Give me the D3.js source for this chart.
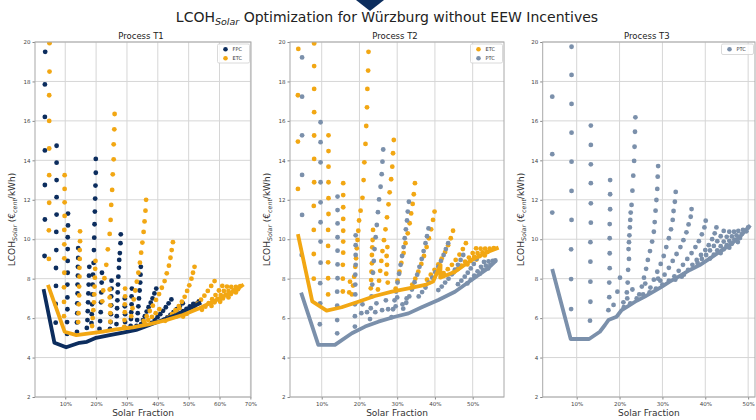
<!DOCTYPE html>
<html>
<head>
<meta charset="utf-8">
<script src="https://cdn.jsdelivr.net/npm/d3@7"></script>
<style>
  body { margin: 0; background: #fff; }
  svg { display: block; }
  text { font-family: "DejaVu Sans", "Liberation Sans", sans-serif; }
</style>
</head>
<body>
<svg id="chart" width="756" height="420"></svg>
<script>
// ---- axis ticks ----
const yTicks = [2, 4, 6, 8, 10, 12, 14, 16, 18, 20];
const xTicksT1 = [10, 20, 30, 40, 50, 60, 70];
const xTicksT23 = [10, 20, 30, 40, 50];

// ---- Process T1: [solar fraction %, LCOH ct/kWh] ----
const t1FPC = [
  [3.5,19.5],[3.4,17.85],[3.4,16.2],[3.4,14.5],[3.4,12.75],[3.4,11.0],[3.3,9.15],
  [7.2,14.74],[7.2,13.88],[7.2,13.0],[7.2,12.13],[7.2,11.25],[7.1,10.37],[7.1,9.45],[7.0,8.54],[7.0,7.63],[6.9,6.72],[6.9,5.77],
  [10.9,11.3],[10.9,10.7],[10.8,10.1],[10.8,9.5],[10.8,8.9],[10.8,8.3],[10.7,7.7],[10.7,7.05],[10.7,6.45],[10.6,5.8],[10.6,5.2],
  [14.2,9.55],[14.2,9.05],[14.1,8.6],[14.1,8.15],[14.0,7.7],[14.0,7.25],[13.9,6.75],[13.9,6.25],[13.8,5.78],[13.8,5.3],
  [17.8,8.6],[17.7,8.15],[17.6,7.7],[17.5,7.25],[17.4,6.8],[17.3,6.35],[17.2,5.9],[17.0,5.5],
  [19.9,14.07],[19.9,13.37],[19.8,12.72],[19.7,12.06],[19.6,11.4],[19.5,10.76],[19.4,10.08],[19.3,9.45],[19.2,8.8],[19.0,8.2],[18.9,7.7],[18.8,7.2],[18.7,6.7],[18.6,6.2],[18.5,5.75],
  [21.9,8.3],[21.8,7.8],[21.7,7.3],[21.6,6.8],[21.5,6.3],[21.3,5.85],[21.1,5.45],
  [25.0,7.9],[25.0,7.5],[24.9,7.1],[24.9,6.65],[24.8,6.2],[24.7,5.8],[24.5,5.45],
  [28.0,10.25],[27.9,9.8],[27.7,9.3],[27.5,8.95],[27.4,8.55],[27.2,8.1],[27.1,7.7],[27.0,7.3],[26.9,6.9],[26.8,6.5],[26.7,6.1],[26.6,5.7],
  [29.3,7.0],[29.3,6.6],[29.4,6.2],[29.4,5.8],[29.3,5.5],
  [31.6,7.5],[31.5,7.1],[31.5,6.7],[31.4,6.3],[31.3,5.95],[31.2,5.6],
  [34.5,8.6],[34.4,8.2],[34.3,7.8],[34.1,7.4],[33.9,7.0],[33.7,6.6],[33.5,6.25],[33.3,5.9],[33.1,5.6],
  [39.5,7.5],[38.9,7.25],[38.3,7.0],[37.7,6.78],[37.0,6.55],[36.4,6.33],[35.8,6.1],[35.2,5.9],[34.6,5.7],
  [44.4,6.95],[43.5,6.75],[42.6,6.55],[41.7,6.37],[40.8,6.2],[39.9,6.05],[39.0,5.9],[38.1,5.76],
  [48.1,6.75],[47.1,6.6],[46.1,6.45],[45.1,6.3],[44.1,6.16],[43.1,6.03],[42.1,5.92],
  [51.5,6.72],[50.4,6.6],[49.3,6.47],[48.2,6.35],[47.1,6.22],[46.0,6.1],
  [53.3,6.85],[52.4,6.72]
];
const t1ETC = [
  [4.9,19.94],[4.9,18.5],[4.8,17.3],[4.8,16.0],[4.8,14.6],[4.8,13.25],[4.8,11.85],[4.7,10.45],[4.7,9.0],
  [9.8,13.25],[9.8,12.55],[9.8,11.87],[9.8,11.18],[9.7,10.47],[9.7,9.74],[9.7,9.03],[9.7,8.3],[9.6,7.56],[9.6,6.82],[9.6,6.1],
  [14.8,10.4],[14.8,9.9],[14.7,9.45],[14.7,9.0],[14.6,8.55],[14.6,8.1],[14.5,7.6],[14.5,7.15],[14.4,6.7],[14.3,6.25],[14.2,5.8],
  [19.8,8.9],[19.7,8.5],[19.6,8.05],[19.5,7.6],[19.4,7.2],[19.3,6.8],[19.1,6.4],[18.9,6.0],[18.7,5.6],
  [26.0,16.35],[25.9,15.57],[25.7,14.81],[25.7,14.05],[25.4,13.29],[25.2,12.5],[24.9,11.74],[24.7,10.98],[24.4,10.27],[23.8,9.49],[23.3,8.7],[22.7,8.02],[22.3,7.4],[22.0,6.85],
  [24.4,7.45],[24.4,7.05],[24.6,6.65],[24.6,6.25],[24.6,5.82],
  [29.4,7.5],[29.4,7.1],[29.3,6.7],[29.3,6.3],[29.2,5.9],[29.1,5.55],
  [36.2,12.0],[36.0,11.45],[35.7,10.9],[35.4,10.37],[35.0,9.83],[34.6,9.32],[34.2,8.81],[33.7,8.3],[33.2,7.85],[32.7,7.4],[32.2,6.95],[31.8,6.5],[31.4,6.1],
  [44.9,9.85],[44.5,9.45],[44.1,9.06],[43.6,8.66],[42.9,8.27],[42.2,7.88],[41.3,7.54],[40.4,7.22],[39.4,6.92],[38.4,6.63],[37.4,6.36],[36.4,6.1],[35.4,5.86],
  [51.9,8.6],[51.4,8.3],[50.9,8.0],[50.2,7.66],[49.5,7.38],[48.7,7.08],[47.8,6.83],[46.8,6.61],[45.7,6.4],[44.6,6.2],[43.5,6.02],[42.4,5.86],
  [58.4,7.88],[57.3,7.63],[56.2,7.38],[55.1,7.14],[54.0,6.93],[52.9,6.73],[51.8,6.55],[50.6,6.38],[49.4,6.22],[48.2,6.08],
  [60.9,7.63],[59.8,7.4],[58.7,7.17],[57.6,6.96],[56.5,6.76],[55.4,6.58],[54.3,6.42],
  [62.4,7.6],[61.4,7.38],[60.4,7.17],[59.4,6.98],[58.4,6.8],[57.4,6.62],
  [63.8,7.58],[62.9,7.38],[62.0,7.19],[61.1,7.0],[60.2,6.83],
  [65.3,7.58],[64.5,7.4],[63.7,7.22],[62.9,7.05],
  [66.7,7.62],[66.0,7.46],[65.3,7.3],
  [40.5,6.45],[39.3,6.25],[38.1,6.06],[36.9,5.9],[35.7,5.76],
  [47.0,6.5],[45.9,6.35],[44.8,6.2]
];
const t1FPCmin = [[3.1,7.37],[6.5,4.75],[10.3,4.52],[14.6,4.75],[17.0,4.8],[20.0,5.0],[24.4,5.14],[28.7,5.26],[33.0,5.4],[37.3,5.65],[41.6,5.9],[46.0,6.16],[50.3,6.5],[53.5,6.75]];
const t1ETCmin = [[4.6,7.6],[9.8,5.31],[13.6,5.14],[17.9,5.23],[22.2,5.31],[26.5,5.43],[31.9,5.53],[37.3,5.7],[42.7,5.9],[48.1,6.16],[53.5,6.5],[59.0,6.92],[64.4,7.34],[67.3,7.65]];

// ---- Process T2 ----
const t2ETC = [
  [3.8,19.65],[3.7,17.3],[3.7,14.95],[3.7,12.55],
  [8.0,19.93],[8.0,18.78],[8.0,17.62],[8.0,16.44],[8.0,15.26],[8.0,14.07],[8.0,12.89],[7.9,11.69],[7.9,10.47],[7.9,9.25],[7.9,8.0],
  [11.8,15.27],[11.8,14.47],[11.8,13.68],[11.8,12.89],[11.8,12.08],[11.8,11.28],[11.7,10.47],[11.7,9.66],[11.7,8.83],[11.7,8.02],[11.7,7.2],
  [15.7,12.84],[15.7,12.24],[15.7,11.62],[15.7,11.03],[15.7,10.43],[15.7,9.88],[15.7,9.32],[15.6,8.7],[15.6,8.0],[15.6,7.35],
  [17.5,7.85],[17.3,7.3],
  [22.4,19.5],[22.3,18.55],[22.1,17.62],[22.0,16.69],[21.8,15.74],[21.6,14.83],[21.3,13.9],[21.1,13.0],[20.8,12.1],[20.3,11.45],[19.9,10.95],[19.7,10.43],[19.5,9.96],[19.3,9.54],[19.1,9.03],[18.9,8.6],[18.6,8.1],[18.3,7.65],[18.0,7.2],
  [23.6,10.47],[23.5,9.96],[23.4,9.59],[23.3,9.2],[23.3,8.78],[23.2,8.35],[23.1,7.93],[23.0,7.51],
  [29.1,15.03],[28.9,14.36],[28.7,13.68],[28.4,13.04],[28.0,12.38],[27.7,11.77],[27.3,11.11],[26.9,10.5],[26.5,9.95],[26.1,9.4],[25.8,8.9],[25.5,8.4],[25.2,7.9],[24.9,7.45],
  [27.4,9.6],[27.2,9.15],[27.3,8.7],[27.1,8.25],[27.5,7.8],
  [34.7,12.84],[34.4,12.28],[34.1,11.79],[33.7,11.31],[33.3,10.81],[32.8,10.3],[32.2,9.8],[31.7,9.3],[31.1,8.8],[30.6,8.35],[30.1,7.9],[29.6,7.5],
  [39.9,11.4],[39.5,10.98],[39.0,10.5],[38.4,10.05],[37.8,9.6],[37.1,9.15],[36.4,8.75],[35.6,8.35],[34.8,8.0],[34.0,7.7],
  [44.8,10.43],[44.2,10.05],[43.5,9.7],[42.7,9.35],[41.8,9.02],[40.9,8.72],[39.9,8.45],[38.9,8.2],[37.9,7.95],
  [48.2,9.8],[47.4,9.5],[46.5,9.22],[45.5,8.95],[44.5,8.7],[43.4,8.48],[42.3,8.28],
  [50.9,9.54],[50.0,9.3],[49.0,9.07],[48.0,8.86],[47.0,8.66],[46.0,8.48],[45.0,8.32],
  [52.1,9.52],[51.3,9.3],[50.4,9.1],[49.5,8.9],[48.6,8.72],
  [53.3,9.52],[52.6,9.33],[51.8,9.14],[51.0,8.97],
  [54.5,9.52],[53.9,9.35],[53.2,9.18],
  [55.6,9.55]
];
const t2PTC = [
  [4.8,19.22],[4.8,17.23],[4.8,15.27],[4.8,13.26],[4.8,11.23],[4.7,9.2],
  [9.7,15.93],[9.7,14.92],[9.7,13.9],[9.7,12.89],[9.7,11.87],[9.7,10.86],[9.7,9.88],[9.7,8.81],[9.6,7.77],[9.6,6.75],[9.5,5.69],
  [14.2,12.16],[14.2,11.48],[14.2,10.8],[14.2,10.1],[14.2,9.42],[14.2,8.72],[14.2,8.02],[14.1,7.34],[14.1,6.63],[14.1,5.9],[14.1,5.23],
  [19.0,10.2],[19.0,9.7],[19.0,9.2],[19.0,8.7],[18.9,8.2],[18.9,7.7],[18.9,7.2],[18.8,6.7],[18.8,6.1],[18.8,5.57],
  [26.3,14.55],[26.1,13.93],[25.9,13.3],[25.6,12.66],[25.2,12.02],[24.9,11.37],[24.6,10.72],[24.3,10.1],[24.0,9.5],[23.8,8.9],[23.6,8.3],[23.4,7.7],[23.2,7.1],[23.0,6.5],[22.8,5.95],
  [33.1,11.9],[32.8,11.4],[32.6,10.95],[32.3,10.5],[32.0,10.05],[31.7,9.6],[31.3,9.15],[30.9,8.7],[30.5,8.25],[30.1,7.8],[29.7,7.35],[29.3,6.9],[28.9,6.45],[28.5,6.05],
  [38.3,10.55],[37.9,10.15],[37.5,9.8],[37.0,9.4],[36.5,9.0],[35.9,8.6],[35.3,8.2],[34.6,7.82],[33.9,7.45],[33.2,7.1],[32.4,6.78],[31.6,6.48],
  [43.5,9.8],[42.9,9.5],[42.3,9.2],[41.6,8.9],[40.9,8.6],[40.1,8.32],[39.3,8.05],[38.4,7.8],[37.5,7.55],[36.6,7.32],[35.7,7.1],
  [47.5,9.2],[46.8,8.95],[46.1,8.7],[45.3,8.46],[44.5,8.22],[43.6,8.0],[42.7,7.8],[41.8,7.6],[40.9,7.42],
  [51.0,9.0],[50.3,8.75],[49.5,8.52],[48.7,8.3],[47.9,8.1],[47.0,7.9],[46.1,7.72],
  [53.0,8.85],[52.2,8.6],[51.3,8.37],[50.4,8.15],[49.5,7.95],[48.6,7.76],
  [54.2,8.88],[53.5,8.66],[52.7,8.45],[51.9,8.25],
  [55.3,8.9],[54.7,8.7],[54.1,8.52],
  [56.0,8.92],
  [20.5,6.25],[22.0,6.3],[24.2,6.3],[26.0,6.4],[27.6,6.45],[29.6,6.6],[31.4,6.7],[20.8,6.7],[24.5,6.75],[27.0,6.9],[30.0,7.05],[32.5,7.0]
];
const t2ETCmin = [[3.8,10.16],[7.5,6.85],[11.3,6.38],[15.3,6.55],[19.7,6.83],[24.1,7.12],[28.6,7.34],[33.0,7.51],[37.4,7.68],[39.5,7.85],[41.5,8.7],[41.4,8.05],[45.3,8.35],[49.7,8.95],[54.1,9.37],[56.4,9.54]];
const t2PTCmin = [[4.7,7.2],[9.1,4.64],[13.5,4.64],[18.0,5.23],[21.5,5.57],[25.0,5.82],[29.4,6.07],[33.0,6.24],[36.5,6.55],[40.9,6.92],[45.3,7.34],[49.7,7.93],[54.1,8.53],[55.9,8.86]];

// ---- Process T3 ----
const t3PTC = [
  [4.3,17.23],[4.3,14.31],[4.3,11.35],
  [8.8,19.76],[8.8,18.33],[8.8,16.86],[8.8,15.4],[8.8,13.93],[8.8,12.45],[8.8,10.98],[8.7,9.49],[8.7,7.98],[8.7,6.46],
  [13.3,15.76],[13.3,14.78],[13.3,13.8],[13.3,12.84],[13.3,11.82],[13.3,10.84],[13.2,9.85],[13.2,8.86],[13.2,7.85],[13.2,6.83],[13.1,5.87],
  [17.8,13.0],[17.8,12.28],[17.8,11.52],[17.7,10.77],[17.7,10.05],[17.7,9.29],[17.7,8.53],[17.6,7.8],[17.6,7.06],[17.4,6.4],
  [20.1,8.05],[19.5,7.34],[18.6,6.67],
  [23.7,16.18],[23.6,15.45],[23.5,14.69],[23.4,13.97],[23.2,13.22],[23.0,12.46],[22.8,11.74],[22.6,11.35],[22.5,10.98],[22.4,10.6],[22.3,10.2],[22.2,9.85],[22.1,9.5],[22.2,9.0],[22.0,8.45],[21.9,7.8],[21.7,7.3],[20.9,6.8],
  [29.0,13.71],[28.9,13.17],[28.8,12.55],[28.6,11.99],[28.4,11.45],[28.2,10.87],[28.0,10.38],[27.6,9.88],[27.1,9.4],[26.6,8.95],[26.2,8.5],[25.7,8.05],[25.2,7.6],[24.6,7.2],
  [33.1,12.4],[32.9,11.9],[32.6,11.43],[32.4,10.98],[32.0,10.5],[31.5,10.05],[30.9,9.6],[30.3,9.15],[29.6,8.75],[28.8,8.35],[28.0,7.95],[27.2,7.55],
  [36.8,11.53],[36.6,11.14],[36.1,10.75],[35.6,10.35],[34.9,9.95],[34.2,9.6],[33.3,9.25],[32.4,8.9],[31.5,8.55],[30.5,8.2],[29.5,7.9],
  [40.1,10.94],[39.8,10.6],[39.2,10.25],[38.5,9.9],[37.7,9.6],[36.8,9.3],[35.8,9.0],[34.8,8.7],[33.8,8.4],[32.8,8.12],
  [42.6,10.6],[42.2,10.3],[41.6,10.0],[40.8,9.7],[40.0,9.45],[39.0,9.2],[38.0,8.95],[37.0,8.7],[36.0,8.45],[35.0,8.2],
  [44.3,10.42],[43.6,10.15],[42.8,9.9],[42.0,9.66],[41.1,9.43],[40.2,9.2],[39.2,9.0],[38.2,8.8],
  [45.6,10.38],[45.0,10.12],[44.3,9.88],[43.6,9.65],[42.8,9.43],[42.0,9.22],[41.1,9.02],
  [46.7,10.38],[46.2,10.14],[45.6,9.92],[45.0,9.7],[44.3,9.49],[43.6,9.3],
  [47.7,10.42],[47.3,10.2],[46.8,9.98],[46.2,9.77],[45.6,9.57],
  [48.8,10.47],[48.5,10.26],[48.1,10.06],[47.6,9.86],
  [50.0,10.6],[49.6,10.4],
  [21.0,6.55],[22.5,6.75],[24.0,7.0],[25.5,7.2],[27.0,7.3],[28.5,7.5],[30.0,7.7],[31.5,7.9],[33.0,7.95],[34.5,8.1],[23.0,7.45],[26.0,7.75],[29.0,8.0],[21.8,7.0]
];
const t3PTCmin = [[4.4,8.4],[8.6,4.94],[12.9,4.94],[15.4,5.31],[16.6,5.65],[17.4,5.9],[19.3,6.07],[20.5,6.41],[22.0,6.61],[24.0,6.88],[25.9,7.09],[27.9,7.34],[29.8,7.59],[31.7,7.85],[34.1,8.14],[36.4,8.44],[38.7,8.69],[41.1,9.03],[43.4,9.37],[45.7,9.71],[48.1,10.13],[50.2,10.64]];

// ---- styling ----
const colors = { FPC: "#0c2d5e", ETC: "#f2a713", PTC: "#7b90ab" };

const panels = [
  { title: "Process T1", left: 35, right: 251, xDomain: [0.2, 70.2], xTicks: xTicksT1, yLabelX: 15,
    scatter: [["FPC", t1FPC], ["ETC", t1ETC]], lines: [["FPC", t1FPCmin], ["ETC", t1ETCmin]], legend: ["FPC", "ETC"] },
  { title: "Process T2", left: 290, right: 504, xDomain: [1.6, 58.3], xTicks: xTicksT23, yLabelX: 270,
    scatter: [["ETC", t2ETC], ["PTC", t2PTC]], lines: [["ETC", t2ETCmin], ["PTC", t2PTCmin]], legend: ["ETC", "PTC"] },
  { title: "Process T3", left: 542.7, right: 755, xDomain: [2.07, 51.6], xTicks: xTicksT23, yLabelX: 524,
    scatter: [["PTC", t3PTC]], lines: [["PTC", t3PTCmin]], legend: ["PTC"] }
];

const plotTop = 42, plotBottom = 397;
const svg = d3.select("#chart");

// slide marker above the title
svg.append("path")
  .attr("d", "M356,0 L384,0 L370,11 Z")
  .attr("fill", "#0c2d5e");

// figure title
const title = svg.append("text")
  .attr("x", 387).attr("y", 22)
  .attr("text-anchor", "middle")
  .attr("font-size", 14).attr("fill", "#222");
title.append("tspan").text("LCOH");
title.append("tspan").attr("font-size", 9.5).attr("font-style", "italic").attr("dy", 3).text("Solar");
title.append("tspan").attr("dy", -3).text(" Optimization for Würzburg without EEW Incentives");

const y = d3.scaleLinear().domain([2, 20]).range([plotBottom, plotTop]);

panels.forEach((p, i) => {
  const x = d3.scaleLinear().domain(p.xDomain).range([p.left, p.right]);
  const g = svg.append("g");

  // grid
  g.selectAll(".gy").data(yTicks).join("line")
    .attr("x1", p.left).attr("x2", p.right)
    .attr("y1", d => y(d)).attr("y2", d => y(d))
    .attr("stroke", "#d6d6d6").attr("stroke-width", 1);
  g.selectAll(".gx").data(p.xTicks).join("line")
    .attr("x1", d => x(d)).attr("x2", d => x(d))
    .attr("y1", plotTop).attr("y2", plotBottom)
    .attr("stroke", "#d6d6d6").attr("stroke-width", 1);

  // axes (ticks + labels)
  const yAxis = d3.axisLeft(y).tickValues(yTicks).tickSize(2.5).tickPadding(2);
  const xAxis = d3.axisBottom(x).tickValues(p.xTicks).tickSize(2.5).tickPadding(2.5)
    .tickFormat(d => d + "%");
  const ya = g.append("g").attr("transform", `translate(${p.left},0)`).call(yAxis);
  const xa = g.append("g").attr("transform", `translate(0,${plotBottom})`).call(xAxis);
  [ya, xa].forEach(a => {
    a.select(".domain").remove();
    a.selectAll("line").attr("stroke", "#888");
    a.selectAll("text").attr("font-size", 5.5).attr("fill", "#444")
      .attr("font-family", "DejaVu Sans, sans-serif");
  });

  // clipped data layer
  const clipId = "clip" + i;
  svg.append("clipPath").attr("id", clipId).append("rect")
    .attr("x", p.left).attr("y", plotTop).attr("width", p.right - p.left).attr("height", plotBottom - plotTop);
  const data = g.append("g").attr("clip-path", `url(#${clipId})`);

  p.scatter.forEach(([name, pts]) => {
    data.append("g").selectAll("circle").data(pts).join("circle")
      .attr("cx", d => x(d[0])).attr("cy", d => y(d[1]))
      .attr("r", 2.4).attr("fill", colors[name]);
  });
  const line = d3.line().x(d => x(d[0])).y(d => y(d[1]));
  p.lines.forEach(([name, pts]) => {
    data.append("path").attr("d", line(pts))
      .attr("fill", "none").attr("stroke", colors[name])
      .attr("stroke-width", 3.8).attr("stroke-linejoin", "round").attr("stroke-linecap", "square");
  });

  // frame
  g.append("rect")
    .attr("x", p.left).attr("y", plotTop).attr("width", p.right - p.left).attr("height", plotBottom - plotTop)
    .attr("fill", "none").attr("stroke", "#a8a8a8").attr("stroke-width", 1);

  // legend
  const lw = 32, lh = p.legend.length === 2 ? 19 : 10.5;
  const lx = p.right - lw - 1.5, ly = plotTop + 2;
  const lg = g.append("g");
  lg.append("rect").attr("x", lx).attr("y", ly).attr("width", lw).attr("height", lh)
    .attr("rx", 1.5).attr("fill", "#fff").attr("fill-opacity", 0.85)
    .attr("stroke", "#d0d0d0").attr("stroke-width", 0.8);
  p.legend.forEach((name, k) => {
    const cy = ly + 5.2 + k * 9;
    lg.append("circle").attr("cx", lx + 8).attr("cy", cy).attr("r", 2.3).attr("fill", colors[name]);
    lg.append("text").attr("x", lx + 15).attr("y", cy + 1.8)
      .attr("font-size", 5).attr("fill", "#333").text(name);
  });

  // panel title
  g.append("text").attr("x", (p.left + p.right) / 2 - 2).attr("y", 39)
    .attr("text-anchor", "middle").attr("font-size", 8.5).attr("fill", "#222").text(p.title);

  // x label
  g.append("text").attr("x", (p.left + p.right) / 2).attr("y", 416)
    .attr("text-anchor", "middle").attr("font-size", 9).attr("fill", "#333").text("Solar Fraction");

  // y label
  const yl = g.append("text")
    .attr("transform", `translate(${p.yLabelX},${(plotTop + plotBottom) / 2}) rotate(-90)`)
    .attr("text-anchor", "middle").attr("font-size", 9).attr("fill", "#333");
  yl.append("tspan").text("LCOH");
  yl.append("tspan").attr("font-size", 6.3).attr("font-style", "italic").attr("dy", 2).text("Solar");
  yl.append("tspan").attr("dy", -2).text(" (€");
  yl.append("tspan").attr("font-size", 6.3).attr("font-style", "italic").attr("dy", 2).text("cent");
  yl.append("tspan").attr("dy", -2).text("/kWh)");
});
</script>
</body>
</html>
